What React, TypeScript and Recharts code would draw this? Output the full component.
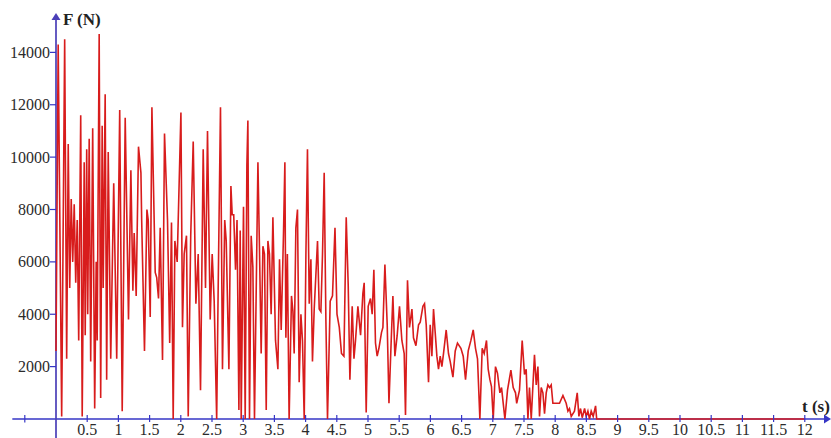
import { LineChart, Line, XAxis, YAxis, ReferenceLine } from 'recharts';

// force signal, t in seconds, F in newtons
const timeS = [
  0, 0.035, 0.091, 0.139, 0.171, 0.196, 0.22, 0.244, 0.268, 0.292, 0.316, 0.34, 0.364, 0.396, 0.42, 0.452,
  0.468, 0.492, 0.508, 0.532, 0.556, 0.588, 0.62, 0.644, 0.66, 0.692, 0.716, 0.74, 0.756, 0.788, 0.812, 0.837,
  0.877, 0.925, 0.973,
  1.021, 1.061, 1.109, 1.162, 1.2, 1.232, 1.253, 1.285, 1.322, 1.361, 1.373, 1.418, 1.457, 1.478, 1.51, 1.537,
  1.59, 1.614, 1.643, 1.67, 1.707, 1.739, 1.787, 1.822, 1.851, 1.878, 1.905, 1.942,
  2.002, 2.027, 2.054, 2.091, 2.119, 2.159, 2.199, 2.242, 2.279, 2.316, 2.359, 2.396, 2.428, 2.471, 2.503, 2.535,
  2.575, 2.599, 2.636, 2.668, 2.704, 2.728, 2.771, 2.803, 2.824, 2.848, 2.877, 2.901, 2.931, 2.952, 2.968,
  3.005, 3.032, 3.059, 3.075, 3.101, 3.128, 3.155, 3.181, 3.236, 3.261, 3.288, 3.316, 3.341, 3.369, 3.396, 3.421,
  3.448, 3.476, 3.518, 3.556, 3.582, 3.609, 3.646, 3.668, 3.684, 3.708, 3.736, 3.774, 3.797, 3.817, 3.844, 3.87,
  3.897, 3.925, 3.95, 3.978,
  4.005, 4.03, 4.058, 4.085, 4.11, 4.138, 4.191, 4.218, 4.245, 4.271, 4.298, 4.325, 4.351, 4.394, 4.431, 4.471,
  4.503, 4.54, 4.575, 4.614, 4.651, 4.683, 4.71, 4.747, 4.775, 4.8, 4.838, 4.881, 4.918, 4.939, 4.971,
  5.003, 5.04, 5.067, 5.094, 5.12, 5.147, 5.175, 5.216, 5.239, 5.271, 5.308, 5.336, 5.372, 5.399, 5.431, 5.468,
  5.505, 5.543, 5.58, 5.601, 5.633, 5.665, 5.704, 5.729, 5.768, 5.81, 5.837, 5.88, 5.906, 5.933, 5.97, 5.997,
  6.024, 6.05, 6.077, 6.104, 6.13, 6.157, 6.184, 6.21, 6.253, 6.29, 6.317, 6.361, 6.398, 6.434, 6.489, 6.526,
  6.563, 6.606, 6.649, 6.686, 6.723, 6.755, 6.793, 6.83, 6.862, 6.899, 6.926, 6.954, 6.979,
  7.007, 7.043, 7.075, 7.114, 7.14, 7.194, 7.236, 7.29, 7.327, 7.364, 7.383, 7.428, 7.471, 7.508, 7.535, 7.563,
  7.588, 7.616, 7.668, 7.696, 7.723, 7.749, 7.776, 7.803, 7.829, 7.856, 7.883, 7.909, 7.936, 7.963,
  8.016, 8.069, 8.124, 8.176, 8.204, 8.229, 8.257, 8.309, 8.353, 8.38, 8.406, 8.433, 8.471, 8.497, 8.524, 8.55,
  8.577, 8.609, 8.647, 8.665, 12,
];

const forceN = [
  2600, 14300, 100, 14500, 2300, 10500, 5000, 8400, 6000, 8200, 5200, 7600, 3000, 11600, 100, 9800,
  3200, 10300, 4000, 10700, 2200, 11100, 400, 6000, 3000, 14700, 800, 11200, 5000, 12400, 1500, 10200,
  2300, 9000, 2300,
  11800, 300, 11500, 3800, 9500, 4900, 7100, 4700, 10400, 9400, 7600, 2600, 8000, 7600, 3900, 11900,
  5600, 5400, 4600, 7300, 2250, 10900, 7600, 2900, 7500, 0, 6800, 6000,
  11700, 3500, 6300, 7000, 100, 7000, 10600, 4400, 6300, 1100, 10300, 5000, 11000, 3800, 6300, 4500,
  0, 5000, 11900, 1900, 7600, 6800, 1900, 8900, 7800, 7800, 5700, 7600, 340, 7200, 0,
  8100, 0, 9700, 11400, 0, 7000, 5800, 0, 9800, 6500, 2500, 6600, 6300, 340, 6800, 6300,
  4000, 7700, 3000, 1900, 6100, 3400, 7100, 9800, 3100, 6300, 0, 4700, 4100, 2500, 7300, 8000,
  1400, 4000, 3000, 0,
  6300, 10300, 4400, 6100, 2200, 4200, 6800, 4200, 4100, 6300, 9400, 3800, 0, 4500, 4700, 7300,
  4000, 3500, 2500, 2400, 7700, 5100, 1500, 4300, 2300, 3000, 4300, 3200, 4800, 5200, 250,
  4300, 4600, 4000, 5700, 2900, 2400, 2700, 3300, 3500, 5900, 3600, 600, 3000, 4700, 2400, 3200,
  4300, 3000, 2500, 150, 5300, 3500, 4200, 3100, 2800, 3600, 3700, 4300, 4400, 3600, 1400, 3600,
  2400, 4200, 3300, 2400, 1900, 2400, 2000, 2500, 3400, 2500, 2200, 1600, 2600, 2900, 2700, 2400,
  1500, 2600, 3000, 3400, 2700, 2300, 0, 2700, 2500, 3000, 1900, 1500, 1240,
  0, 2000, 1750, 1000, 1200, 0, 1100, 1870, 1200, 1000, 600, 1100, 3000, 1700, 1900, 0,
  1200, 0, 2450, 1300, 2000, 100, 1200, 1000, 200, 1000, 1300, 1200, 1300, 600,
  600, 600, 900, 600, 300, 400, 100, 300, 1000, 100, 400, 50, 400, 100, 300, 0,
  300, 100, 500, 0, 0,
];

const xTicks = [0.5, 1, 1.5, 2, 2.5, 3, 3.5, 4, 4.5, 5, 5.5, 6, 6.5, 7, 7.5, 8, 8.5, 9, 9.5, 10, 10.5, 11, 11.5, 12];
const yTicks = [2000, 4000, 6000, 8000, 10000, 12000, 14000];

const data = timeS.map((t, i) => ({ t, f: forceN[i] }));

const AXIS = '#3636c6';
const RED = '#d81c1c';
const FONT = '"Liberation Serif", "Times New Roman", serif';

function XTick({ x, y, payload }: any) {
  return (
    <g>
      <line x1={x} x2={x} y1={y - 4} y2={y + 3} stroke={AXIS} strokeWidth={1.2} />
      <text x={x} y={y + 16} textAnchor="middle" fontSize={16} fontFamily={FONT} fill="#2b2b2b">
        {payload.value}
      </text>
    </g>
  );
}

function YTick({ x, y, payload }: any) {
  return (
    <g>
      <line x1={x - 6} x2={x} y1={y} y2={y} stroke={AXIS} strokeWidth={1.2} />
      <text x={x - 6} y={y} dy={5.5} textAnchor="end" fontSize={16} fontFamily={FONT} fill="#2b2b2b">
        {payload.value}
      </text>
    </g>
  );
}

// axis line with an arrow head at its second end
function ArrowLine(props: any) {
  const { x1, y1, x2, y2, stroke } = props;
  const a = Math.atan2(y2 - y1, x2 - x1);
  const bx = x2 - 7 * Math.cos(a);
  const by = y2 - 7 * Math.sin(a);
  const px = -Math.sin(a) * 4.5;
  const py = Math.cos(a) * 4.5;
  return (
    <g>
      <line x1={x1} y1={y1} x2={bx} y2={by} stroke={stroke} strokeWidth={1.7} />
      <polygon points={`${x2},${y2} ${bx + px},${by + py} ${bx - px},${by - py}`} fill={stroke} />
    </g>
  );
}

export default function App() {
  return (
    <div style={{ position: 'fixed', left: 0, top: 0, width: 831, height: 438, background: '#fff' }}>
      <LineChart width={831} height={438} data={data} margin={{ top: 0, right: 0, bottom: 0, left: 0 }}>
        <XAxis
          type="number"
          dataKey="t"
          domain={[0, 12.42]}
          ticks={xTicks}
          height={19}
          axisLine={false}
          tickLine={false}
          tickSize={0}
          tickMargin={0}
          tick={<XTick />}
          interval={0}
        />
        <YAxis
          type="number"
          domain={[0, 16000]}
          ticks={yTicks}
          width={56}
          axisLine={false}
          tickLine={false}
          tickSize={0}
          tickMargin={0}
          tick={<YTick />}
          interval={0}
        />
        <ReferenceLine
          segment={[{ x: -0.7, y: 0 }, { x: 12.42, y: 0 }]}
          stroke={AXIS}
          ifOverflow="visible"
          shape={ArrowLine}
        />
        <ReferenceLine
          segment={[{ x: 0, y: -800 }, { x: 0, y: 15500 }]}
          stroke="#4a3fb8"
          ifOverflow="visible"
          shape={ArrowLine}
        />
        <ReferenceLine
          segment={[{ x: -0.5, y: -130 }, { x: -0.5, y: 150 }]}
          stroke={AXIS}
          strokeWidth={1.2}
          ifOverflow="visible"
        />
        <Line
          type="linear"
          dataKey="f"
          stroke={RED}
          strokeWidth={1.6}
          dot={false}
          activeDot={false}
          isAnimationActive={false}
        />
      </LineChart>
      <svg width={831} height={438} style={{ position: 'absolute', left: 0, top: 0, pointerEvents: 'none' }}>
        <text x={63} y={25} fontSize={17} fontWeight="bold" fontFamily={FONT} fill="#222">F (N)</text>
        <text x={802} y={412} fontSize={17} fontWeight="bold" fontFamily={FONT} fill="#222">t (s)</text>
      </svg>
    </div>
  );
}
